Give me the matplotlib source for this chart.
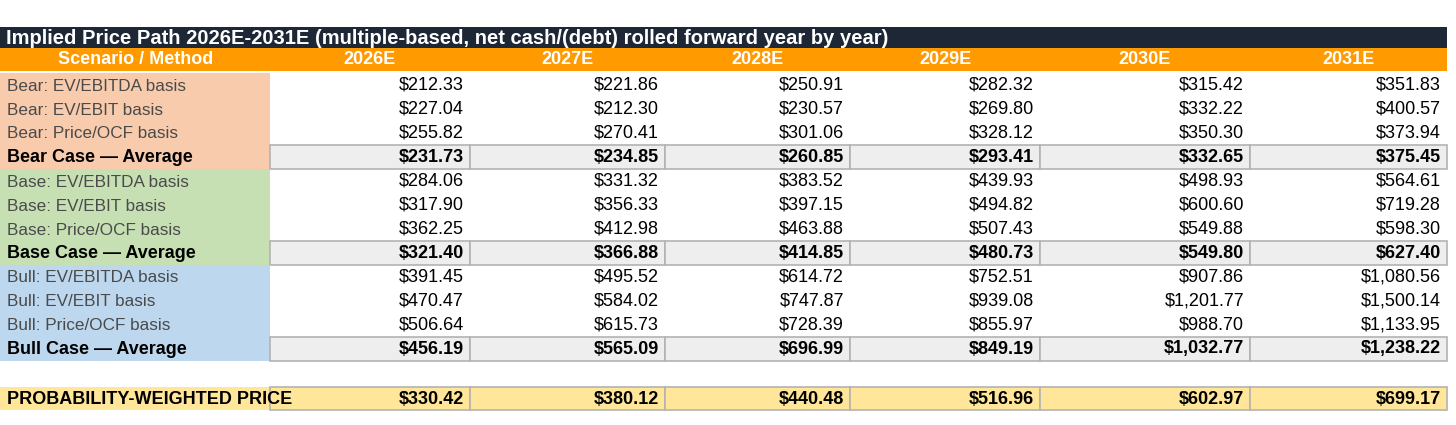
import matplotlib.pyplot as plt
from matplotlib.patches import Rectangle

plt.rcParams["font.family"] = ["Liberation Sans", "DejaVu Sans"]

title = "Implied Price Path 2026E-2031E (multiple-based, net cash/(debt) rolled forward year by year)"
years = ["2026E", "2027E", "2028E", "2029E", "2030E", "2031E"]

bear_labels = ["Bear: EV/EBITDA basis", "Bear: EV/EBIT basis", "Bear: Price/OCF basis", "Bear Case \u2014 Average"]
bear_values = [
    ["$212.33", "$221.86", "$250.91", "$282.32", "$315.42", "$351.83"],
    ["$227.04", "$212.30", "$230.57", "$269.80", "$332.22", "$400.57"],
    ["$255.82", "$270.41", "$301.06", "$328.12", "$350.30", "$373.94"],
    ["$231.73", "$234.85", "$260.85", "$293.41", "$332.65", "$375.45"],
]
base_labels = ["Base: EV/EBITDA basis", "Base: EV/EBIT basis", "Base: Price/OCF basis", "Base Case \u2014 Average"]
base_values = [
    ["$284.06", "$331.32", "$383.52", "$439.93", "$498.93", "$564.61"],
    ["$317.90", "$356.33", "$397.15", "$494.82", "$600.60", "$719.28"],
    ["$362.25", "$412.98", "$463.88", "$507.43", "$549.88", "$598.30"],
    ["$321.40", "$366.88", "$414.85", "$480.73", "$549.80", "$627.40"],
]
bull_labels = ["Bull: EV/EBITDA basis", "Bull: EV/EBIT basis", "Bull: Price/OCF basis", "Bull Case \u2014 Average"]
bull_values = [
    ["$391.45", "$495.52", "$614.72", "$752.51", "$907.86", "$1,080.56"],
    ["$470.47", "$584.02", "$747.87", "$939.08", "$1,201.77", "$1,500.14"],
    ["$506.64", "$615.73", "$728.39", "$855.97", "$988.70", "$1,133.95"],
    ["$456.19", "$565.09", "$696.99", "$849.19", "$1,032.77", "$1,238.22"],
]
prob_label = "PROBABILITY-WEIGHTED PRICE"
prob_values = ["$330.42", "$380.12", "$440.48", "$516.96", "$602.97", "$699.17"]

# layout in pixels
col_edges = [0, 270, 470, 665, 850, 1040, 1250, 1447]
row_h = 24
fs = 13
fs_lab = 12.3

fig = plt.figure(figsize=(14.56, 4.25), dpi=100)
ax = fig.add_axes([0, 0, 1, 1])
ax.set_xlim(0, 1456)
ax.set_ylim(425, 0)
ax.axis("off")

ax.add_patch(Rectangle((0, 27), 1447, 21, color="#1d2736", lw=0))
ax.text(6, 38, title, color="white", fontsize=14.5, fontweight="bold", va="center")

ax.add_patch(Rectangle((0, 48), 1447, 23, color="#ff9a00", lw=0))
ax.text(136, 59.5, "Scenario / Method", color="white", fontsize=fs, fontweight="bold", ha="center", va="center")
for i, y in enumerate(years):
    cx = (col_edges[i + 1] + col_edges[i + 2]) / 2
    ax.text(cx, 59.5, y, color="white", fontsize=fs, fontweight="bold", ha="center", va="center")

groups = [(bear_labels, bear_values, "#f8cbad"), (base_labels, base_values, "#c6e0b4"),
          (bull_labels, bull_values, "#bdd7ee")]
top = 73
for labels, values, color in groups:
    ax.add_patch(Rectangle((0, top), 270, 4 * row_h, color=color, lw=0))
    for r, (lab, vals) in enumerate(zip(labels, values)):
        y0 = top + r * row_h
        yc = y0 + row_h / 2
        avg = r == 3
        if avg:
            for c in range(6):
                ax.add_patch(Rectangle((col_edges[c + 1], y0), col_edges[c + 2] - col_edges[c + 1], row_h,
                                       facecolor="#eeeeee", edgecolor="#b3b3b3", lw=1.2))
        ax.text(7, yc + 1, lab, fontsize=fs if avg else fs_lab, va="center",
                color="black" if avg else "#4a4a4a", fontweight="bold" if avg else "normal")
        for c, v in enumerate(vals):
            ax.text(col_edges[c + 2] - 6, yc, v, fontsize=fs, ha="right", va="center",
                    color="black", fontweight="bold" if avg else "normal")
    top += 4 * row_h

y0 = 387
ax.add_patch(Rectangle((0, y0), 270, 23, color="#ffe699", lw=0))
for c in range(6):
    ax.add_patch(Rectangle((col_edges[c + 1], y0), col_edges[c + 2] - col_edges[c + 1], 23,
                           facecolor="#ffe699", edgecolor="#b3b3b3", lw=1.2))
clip = Rectangle((0, y0), 269, 23, transform=ax.transData)
t = ax.text(7, y0 + 13, prob_label, fontsize=fs, fontweight="bold", va="center")
t.set_clip_path(clip)
for c, v in enumerate(prob_values):
    ax.text(col_edges[c + 2] - 6, y0 + 12, v, fontsize=fs, fontweight="bold", ha="right", va="center")

fig.savefig("out.png", dpi=100)
